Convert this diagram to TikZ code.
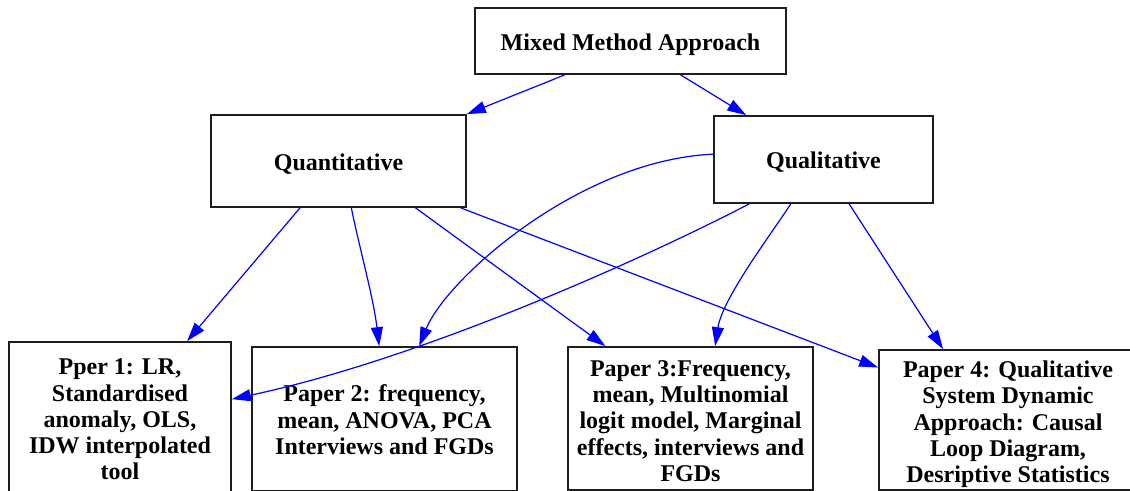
\documentclass[tikz,border=0pt]{standalone}
\usepackage{fontspec}
\setmainfont{Liberation Serif}
\usetikzlibrary{arrows.meta,calc}

\newcommand{\firstlift}[1]{\rule{0pt}{#1}}

\tikzset{every picture/.style={line width=0.75pt}}
\tikzset{
	methbox/.style={draw={rgb, 255:red, 30; green, 30; blue, 30 }, fill=white, line width=1.3pt, inner sep=0pt, align=center, font=\bfseries\fontsize{18}{19.7}\selectfont},
	onebox/.style={methbox, text height=14.2pt, text depth=0pt},
	flow/.style={draw={rgb, 255:red, 0; green, 0; blue, 255 }, line width=0.9pt, -{Triangle[length=14.25pt,width=9pt]}}}

\begin{document}
\begin{tikzpicture}[x=0.75pt,y=0.75pt,yscale=-1,xscale=1]
	\useasboundingbox (0,0) rectangle (1130,491);

	% Text Node
	\node [onebox, minimum width=233.25pt, minimum height=49.5pt] (mixed) at (630.5,41) {Mixed Method Approach};
	% Text Node
	\node [onebox, minimum width=191.25pt, minimum height=69pt] (quant) at (338.5,161) {Quantitative};
	% Text Node
	\node [onebox, minimum width=164.25pt, minimum height=65.25pt] (qual) at (823.5,159.5) {Qualitative};
	% Text Node
	\node [methbox, minimum width=166.5pt, minimum height=113.25pt] (p1) at (120,417.5) {\firstlift{15pt}Pper 1: LR,\\Standardised\\anomaly, OLS,\\IDW interpolated\\tool};
	% Text Node
	\node [methbox, minimum width=198.75pt, minimum height=108pt] (p2) at (384.5,419) {\firstlift{13.8pt}Paper 2: frequency,\\mean, ANOVA, PCA\\Interviews and FGDs};
	% Text Node
	\node [methbox, minimum width=183.75pt, minimum height=107.25pt] (p3) at (690.5,418.5) {\firstlift{15.7pt}Paper 3:Frequency,\\mean, Multinomial\\logit model, Marginal\\effects, interviews and\\FGDs};
	% Text Node
	\node [methbox, minimum width=193.5pt, minimum height=105pt] (p4) at (1008,420) {\firstlift{19pt}Paper 4: Qualitative\\System Dynamic\\Approach: Causal\\Loop Diagram,\\Desriptive Statistics};

	%Straight Lines
	\draw [flow] ($(mixed.south west)!0.29!(mixed.south east)$) -- (quant.north east);
	\draw [flow] ($(mixed.south west)!0.66!(mixed.south east)$) -- ($(qual.north west)!0.15!(qual.north east)$);
	\draw [flow] ($(quant.south west)!0.35!(quant.south east)$) -- ($(p1.north west)!0.8!(p1.north east)$);
	\draw [flow] ($(quant.south west)!0.55!(quant.south east)$) .. controls +(8,40) and +(-6,-50) .. ($(p2.north west)!0.48!(p2.north east)$);
	\draw [flow] ($(quant.south west)!0.8!(quant.south east)$) -- ($(p3.north west)!0.155!(p3.north east)$);
	\draw [flow] ($(quant.south west)!0.976!(quant.south east)$) -- ($(p4.north west)!0.13!(p4.south west)$);
	%Curve Lines
	\draw [flow] ($(qual.north west)!0.44!(qual.south west)$) .. controls +(-134,6) and +(27,-67) .. ($(p2.north west)!0.63!(p2.north east)$);
	\draw [flow] ($(qual.south west)!0.164!(qual.south east)$) .. controls +(-110,57) and +(188,-40) .. ($(p1.north east)!0.38!(p1.south east)$);
	\draw [flow] ($(qual.south west)!0.352!(qual.south east)$) .. controls +(-21,32) and +(7,-47) .. ($(p3.north west)!0.6!(p3.north east)$);
	\draw [flow] ($(qual.south west)!0.616!(qual.south east)$) -- ($(p4.north west)!0.25!(p4.north east)$);

\end{tikzpicture}
\end{document}
